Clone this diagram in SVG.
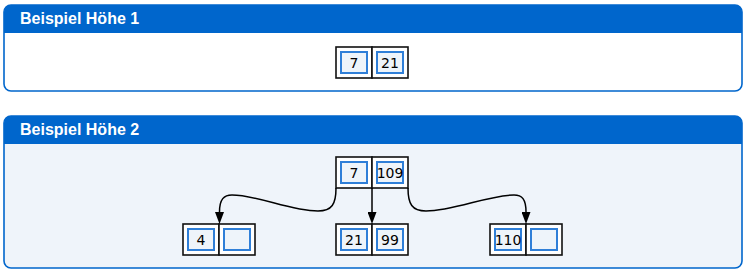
<svg xmlns="http://www.w3.org/2000/svg" width="752" height="274" viewBox="0 0 752 274">
<style>
.frame{stroke:#0066cc;stroke-width:1.6}
.head{fill:#0066cc}
.title{font-family:"Liberation Sans",Arial,sans-serif;font-weight:bold;font-size:16px;fill:#ffffff}
.cell{fill:#ffffff;stroke:#111111;stroke-width:1.6}
.key{fill:#eef4fa;stroke:#2f7fd8;stroke-width:2}
.num{font-family:"DejaVu Sans",Verdana,sans-serif;font-size:14px;fill:#000000;text-anchor:middle}
.edge{fill:none;stroke:#000000;stroke-width:1.5}
</style>
<defs>
<marker id="arr" markerUnits="userSpaceOnUse" viewBox="0 0 12 9" markerWidth="12" markerHeight="9" refX="0" refY="4.5" orient="auto">
<path d="M0,0 L12,4.5 L0,9 Z" fill="#000000"/>
</marker>
</defs>

<g id="panel1">
<rect class="frame" x="4" y="5" width="738" height="86" rx="7" fill="#ffffff"/>
<path class="head" d="M4,33 V12 A7,7 0 0 1 11,5 H735 A7,7 0 0 1 742,12 V33 Z"/>
<text class="title" x="20" y="24">Beispiel Höhe 1</text>
</g>

<g id="panel2">
<rect class="frame" x="4" y="116" width="738" height="152" rx="7" fill="#eff4fa"/>
<path class="head" d="M4,144 V123 A7,7 0 0 1 11,116 H735 A7,7 0 0 1 742,123 V144 Z"/>
<text class="title" x="20" y="135">Beispiel Höhe 2</text>
</g>

<g id="node-h1">
<rect class="cell" x="336" y="47" width="36" height="31"/>
<rect class="cell" x="372" y="47" width="36" height="31"/>
<rect class="key" x="341" y="52" width="26" height="21"/>
<rect class="key" x="377" y="52" width="26" height="21"/>
<text class="num" x="354" y="67.5">7</text>
<text class="num" x="390" y="67.5">21</text>
</g>

<g id="node-root">
<rect class="cell" x="336" y="157" width="36" height="31"/>
<rect class="cell" x="372" y="157" width="36" height="31"/>
<rect class="key" x="341" y="162" width="26" height="21"/>
<rect class="key" x="377" y="162" width="26" height="21"/>
<text class="num" x="354" y="177.5">7</text>
<text class="num" x="390" y="177.5">109</text>
</g>

<g id="node-left">
<rect class="cell" x="183" y="224" width="36" height="31"/>
<rect class="cell" x="219" y="224" width="36" height="31"/>
<rect class="key" x="188" y="229" width="26" height="21"/>
<rect class="key" x="224" y="229" width="26" height="21"/>
<text class="num" x="201" y="244.5">4</text>
</g>

<g id="node-mid">
<rect class="cell" x="336" y="224" width="36" height="31"/>
<rect class="cell" x="372" y="224" width="36" height="31"/>
<rect class="key" x="341" y="229" width="26" height="21"/>
<rect class="key" x="377" y="229" width="26" height="21"/>
<text class="num" x="354" y="244.5">21</text>
<text class="num" x="390" y="244.5">99</text>
</g>

<g id="node-right">
<rect class="cell" x="490" y="224" width="36" height="31"/>
<rect class="cell" x="526" y="224" width="36" height="31"/>
<rect class="key" x="495" y="229" width="26" height="21"/>
<rect class="key" x="531" y="229" width="26" height="21"/>
<text class="num" x="508" y="244.5">110</text>
</g>

<g id="connectors">
<path class="edge" marker-end="url(#arr)" d="M336,188 C336,204 332,211 318,211 C290,211 258,195 232,195 C224,195 219.5,199 219.5,212"/>
<path class="edge" marker-end="url(#arr)" d="M372,188 L372,212"/>
<path class="edge" marker-end="url(#arr)" d="M408,188 C408,204 412,211 426,211 C454,211 488,195 514,195 C522,195 526,199 526,212"/>
</g>
</svg>
